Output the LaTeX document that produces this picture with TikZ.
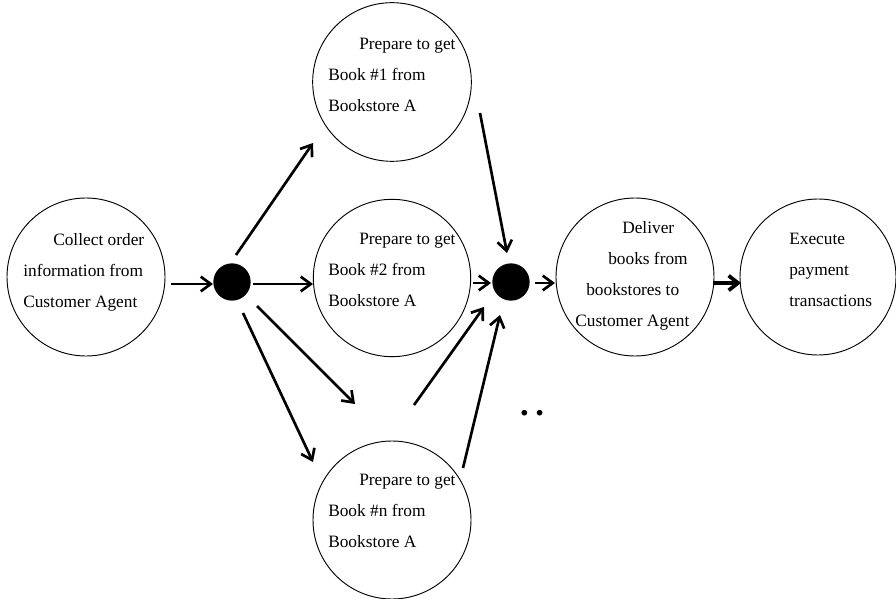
\documentclass[tikz,border=0pt]{standalone}
\usepackage{fontspec}
\setmainfont{Liberation Serif}
\usetikzlibrary{arrows.meta}
\begin{document}
\begin{tikzpicture}[x=0.75pt,y=-0.75pt,
  proc/.style={draw, circle, line width=0.7pt, inner sep=0pt, minimum size=#1},
  bar/.style={circle, fill=black, inner sep=0pt, minimum size=28pt},
  lbl/.style={anchor=west, align=left, inner sep=0pt, font=\fontsize{13}{23.25}\selectfont},
  arr/.style={-{Straight Barb[length=7.5pt,width=11pt]}, line width=2pt},
  thickarr/.style={-{Straight Barb[length=7pt,width=11pt]}, line width=2.8pt}]
\useasboundingbox (0,0) rectangle (896,599);
\fill[white] (0,0) rectangle (896,599);
% circles
\node[proc=118.5pt] (c1) at (86,277) {};
\node[proc=119pt] (b1) at (392,82) {};
\node[proc=118pt] (b2) at (392,278) {};
\node[proc=118.5pt] (bn) at (392,520) {};
\node[proc=118.5pt] (dl) at (635,277) {};
\node[proc=117pt] (ex) at (818,277) {};
% bars
\node[bar] (d1) at (232,282) {};
\node[bar] (d2) at (511,282) {};
\coordinate (gap) at (384,405);
% labels
\node[lbl] (c1t) at (23,272.5) {\hspace*{22.5pt}Collect order\\information from\\Customer Agent};
\node[lbl] (b1t) at (328,74.5) {\hspace*{23.25pt}Prepare to get\\Book \#1 from\\Bookstore A};
\node[lbl] (b2t) at (328,269.5) {\hspace*{23.25pt}Prepare to get\\Book \#2 from\\Bookstore A};
\node[lbl] (bnt) at (328,511) {\hspace*{23.25pt}Prepare to get\\Book \#n from\\Bookstore A};
\node[lbl] (dlt) at (575,275.5) {\hspace*{35.25pt}Deliver\\\hspace*{24.75pt}books from\\\hspace*{8.25pt}bookstores to\\Customer Agent};
\node[lbl] (ext) at (789,269.5) {Execute\\payment\\transactions};
\node[inner sep=0pt, anchor=base, font=\fontsize{26}{30}\selectfont\bfseries] (dots) at (532,415) {.\kern5pt.};
% arrows
\draw[arr] ([shift={(85,7)}]c1.center) -- ([shift={(-19,2)}]d1.center);
\draw[arr] ([shift={(4,-27)}]d1.center) -- ([shift={(-79,61)}]b1.center);
\draw[arr] ([shift={(21,2)}]d1.center) -- ([shift={(-79,6)}]b2.center);
\draw[arr] ([shift={(25,24)}]d1.center) -- ([shift={(-29,-1)}]gap);
\draw[arr] ([shift={(11,31)}]d1.center) -- ([shift={(-79,-58)}]bn.center);
\draw[arr] ([shift={(88,31)}]b1.center) -- ([shift={(-4,-29)}]d2.center);
\draw[arr] ([shift={(81,5)}]b2.center) -- ([shift={(-20,1)}]d2.center);
\draw[arr] ([shift={(30,0)}]gap) -- ([shift={(-27,25)}]d2.center);
\draw[arr] ([shift={(71,-52)}]bn.center) -- ([shift={(-11,33)}]d2.center);
\draw[arr] ([shift={(24,1)}]d2.center) -- ([shift={(-80,6)}]dl.center);
\draw[thickarr] ([shift={(78,6)}]dl.center) -- ([shift={(-77,6)}]ex.center);
\end{tikzpicture}
\end{document}
